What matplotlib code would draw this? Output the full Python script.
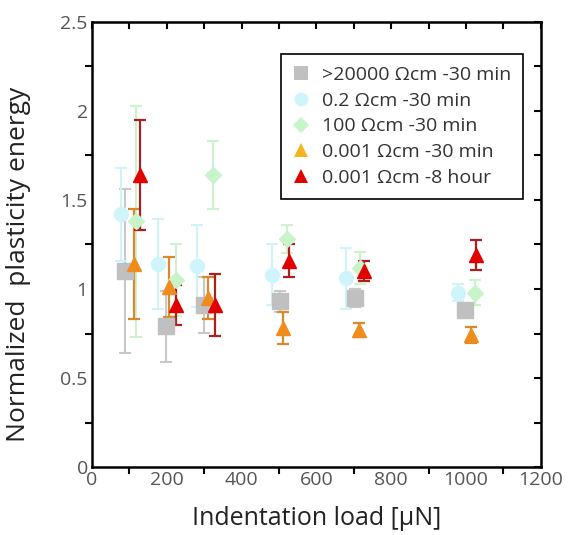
import matplotlib
matplotlib.use("Agg")
import matplotlib.pyplot as plt
from matplotlib.ticker import MultipleLocator
from matplotlib.lines import Line2D

plt.rcParams['font.family'] = ['Open Sans', 'DejaVu Sans']

labels = [">20000 \u03a9cm -30 min", "0.2 \u03a9cm -30 min", "100 \u03a9cm -30 min",
          "0.001 \u03a9cm -30 min", "0.001 \u03a9cm -8 hour"]

x_gray = [89, 197, 300, 502, 703, 998]
y_gray = [1.10, 0.79, 0.91, 0.93, 0.95, 0.88]
e_gray = [0.46, 0.20, 0.155, 0.06, 0.05, 0.03]

x_cyan = [79, 177, 280, 482, 679, 979]
y_cyan = [1.42, 1.14, 1.13, 1.08, 1.06, 0.98]
e_cyan = [0.26, 0.255, 0.23, 0.17, 0.17, 0.05]

x_green = [118, 226, 325, 521, 718, 1023]
y_green = [1.38, 1.05, 1.64, 1.28, 1.12, 0.98]
e_green = [0.65, 0.20, 0.19, 0.08, 0.09, 0.07]

x_orange = [113, 207, 310, 512, 713, 1013]
y_orange = [1.14, 1.01, 0.95, 0.78, 0.77, 0.74]
e_orange = [0.31, 0.17, 0.12, 0.09, 0.04, 0.045]

x_red = [128, 226, 330, 526, 728, 1028]
y_red = [1.64, 0.91, 0.91, 1.16, 1.10, 1.19]
e_red = [0.31, 0.11, 0.175, 0.09, 0.055, 0.085]

fig = plt.figure(figsize=(5.71, 5.35), dpi=100)
ax = fig.add_axes([0.161, 0.127, 0.786, 0.832])

series = [
    (x_gray, y_gray, e_gray, 's', '#c0c0c0', '#c8c8c8', 11, 1.5),
    (x_cyan, y_cyan, e_cyan, 'o', '#cff5fa', '#cff3f8', 10, 1.5),
    (x_green, y_green, e_green, 'D', '#c9f3c9', '#cdf2cd', 8, 1.5),
    (x_orange, y_orange, e_orange, '^', '#f08c1e', '#d8892c', 10, 1.6),
    (x_red, y_red, e_red, '^', '#e00000', '#a82020', 10, 1.6),
]
for xs, ys, es, m, c, ec, ms, lw in series:
    ax.errorbar(xs, ys, yerr=es, fmt=m, color=c, ecolor=ec, markersize=ms,
                markeredgecolor=c, elinewidth=lw, capsize=4, capthick=lw)

ax.set_xlim(0, 1200)
ax.set_ylim(0, 2.5)
ax.xaxis.set_major_locator(MultipleLocator(200))
ax.xaxis.set_minor_locator(MultipleLocator(100))
ax.set_yticks([0, 0.5, 1, 1.5, 2, 2.5])
ax.set_yticklabels(['0', '0.5', '1', '1.5', '2', '2.5'])
ax.yaxis.set_minor_locator(MultipleLocator(0.25))
ax.tick_params(which='both', direction='out', top=False, right=False,
               labelsize=14, labelcolor='#555555', width=1.5)
ax.tick_params(which='major', length=0, pad=3)
ax.tick_params(which='minor', length=5)
for s in ax.spines.values():
    s.set_linewidth(1.8)

# inward ticks on the top and right
axt = ax.secondary_xaxis('top')
axt.xaxis.set_major_locator(MultipleLocator(100))
axt.tick_params(direction='in', length=5, width=1.5, labeltop=False)
axr = ax.secondary_yaxis('right')
axr.yaxis.set_major_locator(MultipleLocator(0.25))
axr.tick_params(direction='in', length=5, width=1.5, labelright=False)

ax.set_xlabel('Indentation load [\u03bcN]', fontsize=18, labelpad=12, color='#222222')
ax.set_ylabel('Normalized  plasticity energy', fontsize=19, color='#222222')
ax.yaxis.set_label_coords(-0.135, 0.455)

handles = [
    Line2D([], [], marker='s', color='#c0c0c0', ls='none', markersize=10, markeredgewidth=0),
    Line2D([], [], marker='o', color='#cff5fa', ls='none', markersize=10, markeredgewidth=0),
    Line2D([], [], marker='D', color='#c9f3c9', ls='none', markersize=8, markeredgewidth=0),
    Line2D([], [], marker='^', color='#f5b520', ls='none', markersize=10, markeredgewidth=0),
    Line2D([], [], marker='^', color='#e00000', ls='none', markersize=10, markeredgewidth=0),
]
leg = ax.legend(handles, labels, loc='upper right', bbox_to_anchor=(0.978, 0.945),
                fontsize=14, frameon=True, fancybox=False, framealpha=1,
                edgecolor='black', handlelength=0.8, handletextpad=0.7,
                borderpad=0.6, borderaxespad=0.4, labelspacing=0.4)
leg.get_frame().set_linewidth(1.2)
for t in leg.get_texts():
    t.set_color('#333333')

fig.savefig('out.png', dpi=100)
